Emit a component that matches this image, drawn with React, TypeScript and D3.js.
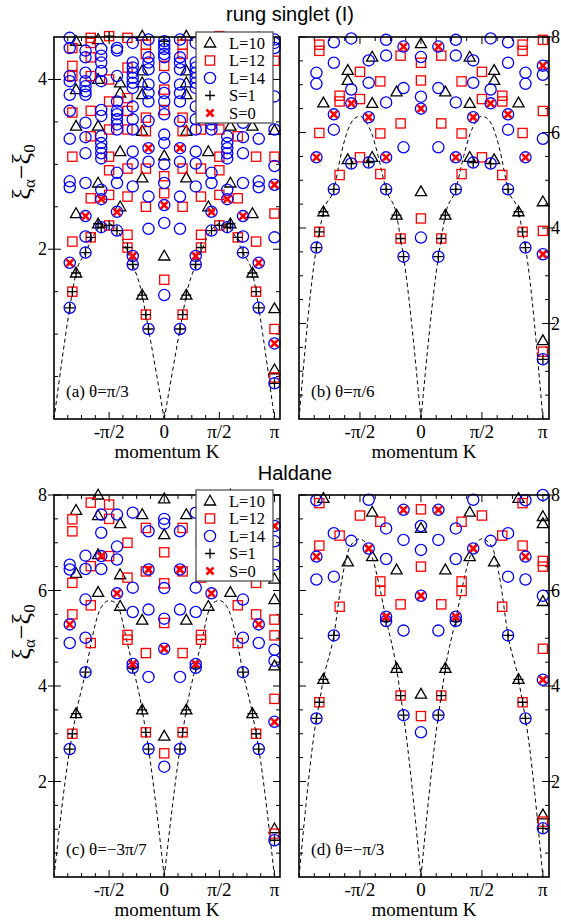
import React from "react";
import * as d3 from "d3";

// level entry: plain number, or [value, S] where S = 1 (plus) or 0 (cross)
type Lv = number | [number, number];

// momentum axis in units of pi
const xMajor = [-0.5, 0, 0.5, 1];
const xMajorLabels = ["-π/2", "0", "π/2", "π"];

// each array: one column per n = 0..L/2 (K = 2πn/L), spectrum is symmetric in K
// (a) rung singlet, θ=π/3
const a10: Lv[][] = [
  [3.1, 1.92],
  [4.51, 4.1, 3.96, 3.82, 3.39, 2.84, [1.46, 1]],
  [3.96, 3.84, 3.15, 2.5],
  [4.47, 4.0, 3.45, 2.78, [2.3, 1]],
  [4.45, 3.88, 3.45, 2.42, [1.72, 1]],
  [3.4, 1.3, 0.58],
];
const a12: Lv[][] = [
  [4.16, 3.88, 3.64, 2.86, 2.66, 1.64],
  [4.41, 4.3, 3.55, 3.39, 2.95, 2.5, [1.23, 1]],
  [4.49, 4.14, 3.78, 3.63, 3.41, 2.95, 2.62, 2.17, [2.02, 1]],
  [[4.51, 1], 4.0, 3.74, 3.41, 3.09, 2.93, 2.64, [2.28, 1]],
  [4.49, 4.43, 4.26, 4.04, 3.63, 3.33, 2.6, [2.14, 1]],
  [4.37, 4.16, 4.04, 3.61, 3.09, 2.09, [1.5, 1]],
  [4.22, 3.09, 2.42, 1.06, 0.49],
];
const a14: Lv[][] = [
  [[4.45, 1], 4.41, 4.36, 4.3, 4.26, 4.02, 3.84, 3.74, 3.59, 3.35, 3.25, 3.0, 2.78, [2.52, 0], 2.31, 1.46],
  [4.47, 4.26, 4.2, 4.12, 3.94, 3.84, 3.74, 3.51, [3.19, 0], 3.03, 2.62, 2.24, [1.06, 1]],
  [4.43, 4.2, 4.14, 4.08, 4.02, 3.96, 3.9, 3.68, 3.53, 3.41, 3.15, 3.01, 2.74, [1.92, 0], [1.82, 1]],
  [4.37, 4.34, 4.04, 3.74, 3.63, 3.59, 3.53, 3.47, 3.41, 2.9, 2.78, [2.44, 0], [2.22, 1]],
  [4.36, 4.28, 4.2, 4.1, 3.98, 3.64, 3.57, 3.33, 3.25, 3.19, 3.13, 3.07, 2.7, [2.59, 0], [2.26, 1]],
  [4.34, 4.26, 4.08, 3.98, 3.92, 3.86, 3.82, 3.49, 3.32, 3.13, 2.78, [2.39, 0], 2.15, [1.96, 1]],
  [4.49, 4.37, 4.04, 3.98, 3.82, 3.63, 3.3, 2.8, 2.73, [1.84, 0], [1.31, 1]],
  [4.47, 4.43, 4.37, 3.8, 3.41, 2.98, [2.76, 0], 2.14, [0.89, 0], [0.42, 1]],
];

// (b) rung singlet, θ=π/6
const b10: Lv[][] = [
  [7.86, 4.76],
  [6.85, [4.27, 1]],
  [7.58, 6.61, 5.48],
  [7.3, 7.09, 5.43],
  [6.62, [4.34, 1]],
  [4.55, 1.64],
];
const b12: Lv[][] = [
  [7.46, 7.09, 4.2],
  [7.61, 6.19, [3.78, 1]],
  [7.07, 5.98, 5.13],
  [7.27, 6.7, 5.48],
  [6.77, 6.65, 5.11],
  [7.84, 7.71, 5.99, [3.92, 1]],
  [7.94, 6.45, 3.94, 1.41],
];
const b14: Lv[][] = [
  [7.58, 6.75, [6.5, 0], 3.8],
  [[7.8, 0], 6.93, 5.69, [3.4, 1]],
  [7.94, 7.61, 6.63, [5.48, 0], [4.81, 1]],
  [7.51, 7.04, [6.32, 0], [5.37, 1]],
  [7.97, 6.9, [6.61, 0], [5.35, 1]],
  [7.89, 7.46, [6.38, 0], 6.06, [4.81, 1]],
  [7.25, 7.02, [5.48, 0], [3.59, 1]],
  [[7.4, 0], 7.21, 5.87, [3.45, 0], [1.25, 1]],
];

// (c) Haldane, θ=-3π/7
const c10: Lv[][] = [
  [7.92, 7.17, 2.95],
  [7.59, 5.38, [3.5, 1]],
  [7.4, 6.33, 5.67],
  [8.0, 7.57, 6.75, 5.96],
  [7.68, 6.36, [3.42, 1]],
  [6.24, 5.81, 4.42, 1.01],
];
const c12: Lv[][] = [
  [6.8, 6.15, 5.32, 2.59],
  [7.31, 6.4, 4.69, [3.03, 1]],
  [7.0, 6.27, 5.07, 4.97],
  [7.8, 7.5, 6.72],
  [7.84, 6.51, 5.69, 4.9],
  [7.49, 7.24, 6.16, 5.5, [3.0, 1]],
  [5.39, 5.06, 3.73, 0.91],
];
const c14: Lv[][] = [
  [7.5, 7.4, 6.05, 5.41, [4.78, 0], 2.31],
  [7.24, [6.44, 0], 5.6, 4.19, [2.68, 1]],
  [7.63, 6.06, 5.55, [4.46, 0], [4.38, 1]],
  [7.59, 6.92, 6.65, [5.94, 0]],
  [7.59, 7.21, [6.72, 0], 6.45],
  [6.73, 6.45, 5.81, 5.01, [4.29, 1]],
  [6.54, 6.44, [5.29, 0], 4.9, [2.68, 1]],
  [[7.35, 0], 7.03, 6.54, 4.76, 4.53, [3.25, 0], [0.77, 1]],
];

// (d) Haldane, θ=-π/3
const d10: Lv[][] = [
  [7.3, 3.83],
  [6.43, [4.37, 1]],
  [7.64, 6.71],
  [6.6],
  [7.93, [4.14, 1]],
  [7.55, 7.4, 5.77, 1.3],
];
const d12: Lv[][] = [
  [7.7, 6.5, 3.37],
  [5.71, [3.8, 1]],
  [7.44, 6.19, 5.99],
  [7.57],
  [7.15, 5.66],
  [7.83, 6.94, [3.66, 1]],
  [6.62, 6.5, 4.78, 1.16],
];
const d14: Lv[][] = [
  [7.35, 6.85, [5.89, 0], 3.03],
  [[7.69, 0], 7.06, 5.16, [3.39, 1]],
  [7.3, 6.66, [5.45, 0], [5.36, 1]],
  [7.9, [6.88, 0]],
  [7.04],
  [7.2, 6.29, [5.06, 1]],
  [7.89, [6.71, 0], 6.23, [3.32, 1]],
  [8.0, 5.89, [4.13, 0], [1.02, 1]],
];

// dashed lines, read at these K/π (mirrored for K<0)
const curveK = [0, 0.143, 0.167, 0.2, 0.286, 0.35, 0.4, 0.45, 0.5, 0.55, 0.6, 0.65, 0.714, 0.8, 0.833, 0.857, 1];
const curveA = [0, 1.06, 1.23, 1.46, 1.82, 2.02, 2.17, 2.26, 2.3, 2.29, 2.24, 2.14, 1.96, 1.72, 1.5, 1.31, 0];
const curveB = [0, 3.4, 3.78, 4.27, 4.81, 5.5, 5.95, 6.22, 6.34, 6.28, 6.05, 5.6, 4.81, 4.34, 3.92, 3.59, 0];
const curveC = [0, 2.68, 3.03, 3.5, 4.42, 5.05, 5.55, 5.75, 5.79, 5.72, 5.5, 5.05, 4.29, 3.42, 3.0, 2.68, 0];
const curveD = [0, 3.39, 3.8, 4.37, 5.4, 6.2, 6.7, 6.98, 7.08, 7.02, 6.8, 6.2, 5.06, 4.14, 3.66, 3.32, 0];

const serif = "'Liberation Serif', 'Times New Roman', serif";
const sans = "'Liberation Sans', Arial, sans-serif";
const RED = "#ff0000";
const BLUE = "#0000ff";

const panels = [
  { id: "a", left: 54, right: 280, top: 37, bottom: 419, yMax: 4.5, yMajor: [2, 4], side: "left", tag: "(a) θ=π/3", sets: [a10, a12, a14], curve: curveA, legend: true },
  { id: "b", left: 299, right: 549, top: 37, bottom: 419, yMax: 8, yMajor: [2, 4, 6, 8], side: "right", tag: "(b) θ=π/6", sets: [b10, b12, b14], curve: curveB, legend: false },
  { id: "c", left: 54, right: 280, top: 495, bottom: 877, yMax: 8, yMajor: [2, 4, 6, 8], side: "left", tag: "(c) θ=−3π/7", sets: [c10, c12, c14], curve: curveC, legend: true },
  { id: "d", left: 299, right: 549, top: 495, bottom: 877, yMax: 8, yMajor: [2, 4, 6, 8], side: "right", tag: "(d) θ=−π/3", sets: [d10, d12, d14], curve: curveD, legend: false },
];

const sizes = [10, 12, 14];

type Pt = { k: number; v: number; s: number | null };

const toPoints = (cols: Lv[][], L: number): Pt[] => {
  const out: Pt[] = [];
  cols.forEach((col, n) => {
    const ks = n === 0 ? [0] : 2 * n === L ? [1] : [(2 * n) / L, (-2 * n) / L];
    col.forEach((lv) => {
      const v = typeof lv === "number" ? lv : lv[0];
      const s = typeof lv === "number" ? null : lv[1];
      ks.forEach((k) => out.push({ k, v, s }));
    });
  });
  return out;
};

const Tri = ({ x, y }: { x: number; y: number }) => (
  <polygon points={`${x},${y - 5.8} ${x - 5.6},${y + 4} ${x + 5.6},${y + 4}`} fill="none" stroke="black" strokeWidth={1.3} />
);
const Sq = ({ x, y }: { x: number; y: number }) => (
  <rect x={x - 4.6} y={y - 4.6} width={9.2} height={9.2} fill="none" stroke={RED} strokeWidth={1.3} />
);
const Circ = ({ x, y }: { x: number; y: number }) => (
  <circle cx={x} cy={y} r={5.6} fill="none" stroke={BLUE} strokeWidth={1.3} />
);
const Plus = ({ x, y }: { x: number; y: number }) => (
  <path d={`M${x - 5},${y}H${x + 5}M${x},${y - 5}V${y + 5}`} stroke="black" strokeWidth={1.3} />
);
const Cross = ({ x, y }: { x: number; y: number }) => (
  <path d={`M${x - 3.5},${y - 3.5}L${x + 3.5},${y + 3.5}M${x - 3.5},${y + 3.5}L${x + 3.5},${y - 3.5}`} stroke={RED} strokeWidth={2.6} />
);
const markers = [Tri, Sq, Circ];

const Legend = ({ x, y }: { x: number; y: number }) => {
  const rows = [
    { t: "L=10", M: Tri },
    { t: "L=12", M: Sq },
    { t: "L=14", M: Circ },
    { t: "S=1", M: Plus },
    { t: "S=0", M: Cross },
  ];
  return (
    <g>
      <rect x={x} y={y} width={77} height={91} fill="white" stroke="#444" strokeWidth={1.2} />
      {rows.map((r, i) => {
        const cy = y + 11 + i * 17.5;
        return (
          <g key={r.t}>
            <r.M x={x + 14} y={cy} />
            <text x={x + 33} y={cy + 5.5} fontFamily={serif} fontSize={16.5}>
              {r.t}
            </text>
          </g>
        );
      })}
    </g>
  );
};

const Panel = ({ p }: { p: (typeof panels)[number] }) => {
  const x = d3.scaleLinear().domain([-1, 1.05]).range([p.left, p.right]);
  const y = d3.scaleLinear().domain([0, p.yMax]).range([p.bottom, p.top]);

  const xMinor = d3.range(-7, 9).map((i) => i / 8).filter((k) => !xMajor.includes(k));
  const yMinor = d3.range(1, Math.round(p.yMax * 2)).map((i) => i / 2).filter((v) => !p.yMajor.includes(v));

  const line = d3
    .line<[number, number]>()
    .x((d) => x(d[0]))
    .y((d) => y(d[1]))
    .curve(d3.curveMonotoneX);
  const right: [number, number][] = curveK.map((k, i) => [k, p.curve[i]]);
  const left: [number, number][] = curveK.map((k, i) => [-k, p.curve[i]] as [number, number]).reverse();

  const pts = p.sets.map((cols, i) => toPoints(cols, sizes[i]));
  const cx = (p.left + p.right) / 2;
  const labLeft = p.side === "left";
  const axisX = labLeft ? p.left : p.right;
  const otherX = labLeft ? p.right : p.left;
  const inDir = labLeft ? 1 : -1;

  return (
    <g>
      {/* ticks */}
      {xMajor.map((k) => (
        <g key={"xM" + k}>
          <line x1={x(k)} x2={x(k)} y1={p.bottom} y2={p.bottom - 7} stroke="black" strokeWidth={1} />
          <line x1={x(k)} x2={x(k)} y1={p.top} y2={p.top + 7} stroke="black" strokeWidth={1} />
        </g>
      ))}
      {xMinor.map((k) => (
        <g key={"xm" + k}>
          <line x1={x(k)} x2={x(k)} y1={p.bottom} y2={p.bottom - 4} stroke="black" strokeWidth={1} />
          <line x1={x(k)} x2={x(k)} y1={p.top} y2={p.top + 4} stroke="black" strokeWidth={1} />
        </g>
      ))}
      {p.yMajor.map((v) => (
        <g key={"yM" + v}>
          <line x1={axisX - 6 * inDir} x2={axisX + 7 * inDir} y1={y(v)} y2={y(v)} stroke="black" strokeWidth={1} />
          <line x1={otherX} x2={otherX - 7 * inDir} y1={y(v)} y2={y(v)} stroke="black" strokeWidth={1} />
        </g>
      ))}
      {yMinor.map((v) => (
        <g key={"ym" + v}>
          <line x1={axisX} x2={axisX + 4 * inDir} y1={y(v)} y2={y(v)} stroke="black" strokeWidth={1} />
          <line x1={otherX} x2={otherX - 4 * inDir} y1={y(v)} y2={y(v)} stroke="black" strokeWidth={1} />
        </g>
      ))}

      {/* dashed curves */}
      <path d={line(left) || ""} fill="none" stroke="black" strokeWidth={1} strokeDasharray="4,3" />
      <path d={line(right) || ""} fill="none" stroke="black" strokeWidth={1} strokeDasharray="4,3" />

      {/* levels */}
      {pts.map((arr, i) => {
        const M = markers[i];
        return arr.map((d, j) => <M key={`${i}-${j}`} x={x(d.k)} y={y(d.v)} />);
      })}
      {pts.map((arr, i) =>
        arr.filter((d) => d.s === 1).map((d, j) => <Plus key={`p${i}-${j}`} x={x(d.k)} y={y(d.v)} />)
      )}
      {pts.map((arr, i) =>
        arr.filter((d) => d.s === 0).map((d, j) => <Cross key={`c${i}-${j}`} x={x(d.k)} y={y(d.v)} />)
      )}

      <rect x={p.left} y={p.top} width={p.right - p.left} height={p.bottom - p.top} fill="none" stroke="black" strokeWidth={1.6} />

      {/* tick labels */}
      {xMajor.map((k, i) => (
        <text key={"xl" + k} x={x(k)} y={p.bottom + 19} textAnchor="middle" fontFamily={serif} fontSize={19}>
          {xMajorLabels[i]}
        </text>
      ))}
      {p.yMajor.map((v) => (
        <text
          key={"yl" + v}
          x={labLeft ? p.left - 7 : p.right + 2}
          y={y(v) + 6}
          textAnchor={labLeft ? "end" : "start"}
          fontFamily={serif}
          fontSize={18}
        >
          {v}
        </text>
      ))}
      <text x={cx} y={p.bottom + 39} textAnchor="middle" fontFamily={serif} fontSize={19}>
        momentum K
      </text>
      <text x={p.left + 12} y={p.bottom - 22} fontFamily={serif} fontSize={17}>
        {p.tag}
      </text>
      {p.legend && <Legend x={196} y={p.top - 5} />}
    </g>
  );
};

const YTitle = ({ cy }: { cy: number }) => (
  <text transform={`translate(30,${cy}) rotate(-90)`} textAnchor="middle" fontFamily={serif} fontSize={26}>
    ξ
    <tspan dy={5} fontSize={17}>α</tspan>
    <tspan dy={-5}>−ξ</tspan>
    <tspan dy={5} fontSize={17}>0</tspan>
  </text>
);

export default function App() {
  return (
    <svg width={561} height={921} style={{ position: "absolute", left: 0, top: 0, background: "white" }}>
      <rect width={561} height={921} fill="white" />
      <text x={290} y={21} textAnchor="middle" fontFamily={sans} fontSize={20}>
        rung singlet (I)
      </text>
      <text x={295} y={480} textAnchor="middle" fontFamily={sans} fontSize={20}>
        Haldane
      </text>
      <YTitle cy={172} />
      <YTitle cy={632} />
      {panels.map((p) => (
        <Panel key={p.id} p={p} />
      ))}
    </svg>
  );
}
